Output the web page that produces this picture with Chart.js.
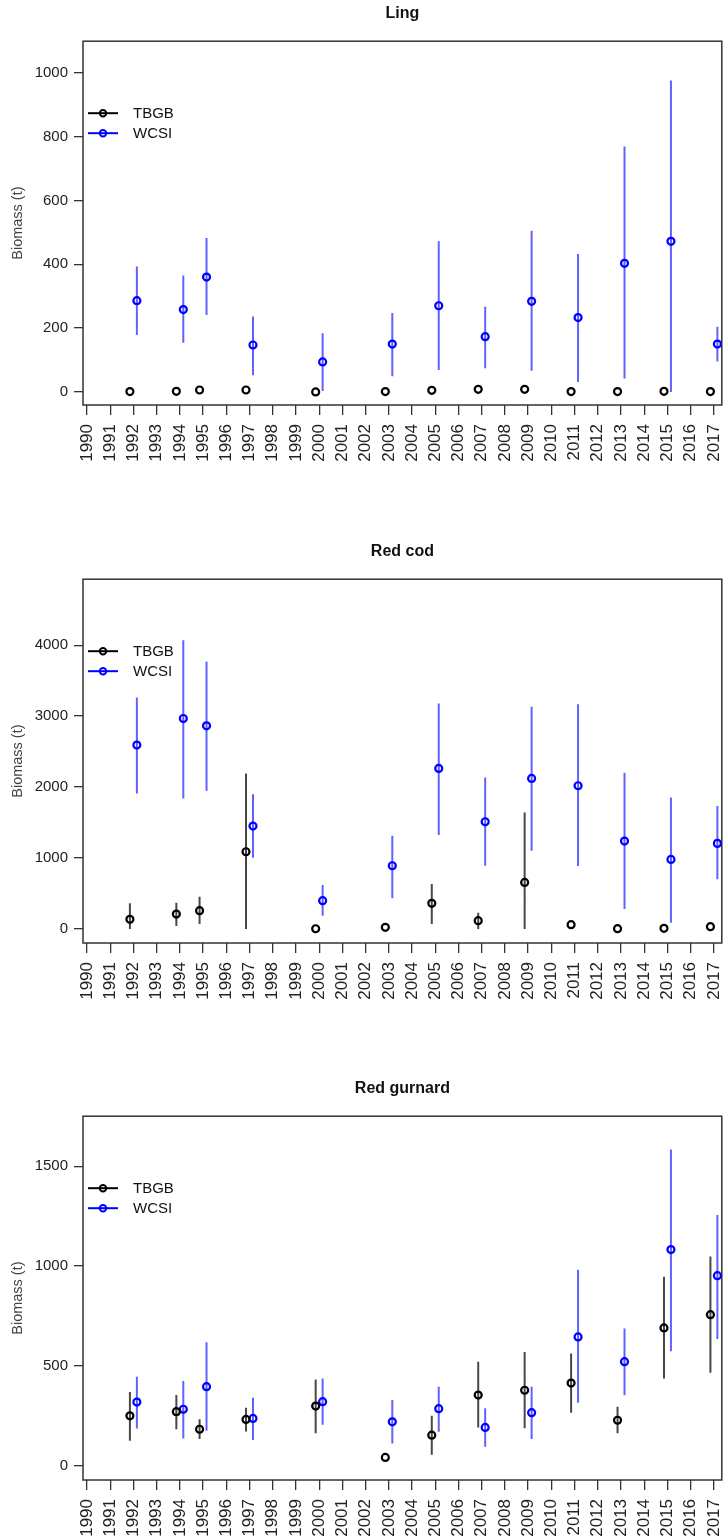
<!DOCTYPE html>
<html lang="en">
<head>
<meta charset="UTF-8">
<title>Survey biomass</title>
<script src="https://cdn.jsdelivr.net/npm/chart.js"></script>
<style>
  body { margin: 0; background: #fff; }
  #wrap { position: relative; width: 728px; height: 1539px; overflow: hidden; }
  canvas { position: absolute; left: 0; }
</style>
</head>
<body>
<div id="wrap">
  <canvas id="lingChart" width="728" height="467" style="top:0px"></canvas>
  <canvas id="redCodChart" width="728" height="467" style="top:538px"></canvas>
  <canvas id="gurnardChart" width="728" height="467" style="top:1075px"></canvas>
</div>

<script>
    // survey years and axis labels
    const surveyYears = [1992, 1994, 1995, 1997, 2000, 2003, 2005, 2007, 2009, 2011, 2013, 2015, 2017];
    const yearTicks = [1990, 1991, 1992, 1993, 1994, 1995, 1996, 1997, 1998, 1999, 2000, 2001, 2002, 2003,
        2004, 2005, 2006, 2007, 2008, 2009, 2010, 2011, 2012, 2013, 2014, 2015, 2016, 2017];

    // Ling
    const lingTicks = [0, 200, 400, 600, 800, 1000];
    const lingTbgb = [1, 2, 6, 6, 0, 1, 5, 8, 8, 1, 1, 2, 1];
    const lingTbgbLo = [null, null, null, null, null, null, null, null, null, null, null, null, null];
    const lingTbgbHi = [null, null, null, null, null, null, null, null, null, null, null, null, null];
    const lingWcsi = [286, 258, 360, 147, 94, 150, 270, 173, 284, 233, 403, 472, 150];
    const lingWcsiLo = [178, 154, 241, 52, 3, 49, 69, 74, 66, 31, 42, 0, 95];
    const lingWcsiHi = [393, 365, 482, 236, 184, 247, 472, 267, 505, 432, 769, 976, 204];

    // Red cod
    const codTicks = [0, 1000, 2000, 3000, 4000];
    const codTbgb = [136, 211, 258, 1089, 4, 24, 362, 117, 657, 61, 5, 10, 33];
    const codTbgbLo = [0, 42, 70, 0, null, null, 70, 0, 0, null, null, null, null];
    const codTbgbHi = [362, 370, 455, 2193, null, null, 634, 230, 1643, null, null, null, null];
    const codWcsi = [2592, 2967, 2863, 1451, 399, 892, 2263, 1512, 2122, 2019, 1239, 981, 1207];
    const codWcsiLo = [1911, 1841, 1948, 1004, 187, 432, 1324, 892, 1103, 887, 282, 89, 700];
    const codWcsiHi = [3263, 4070, 3765, 1901, 620, 1314, 3179, 2136, 3131, 3169, 2202, 1854, 1732];

    // Red gurnard
    const gurnardTicks = [0, 500, 1000, 1500];
    const gurnardTbgb = [251, 272, 184, 233, 300, 43, 154, 355, 379, 415, 229, 691, 757];
    const gurnardTbgbLo = [126, 184, 135, 173, 164, null, 56, 193, 189, 267, 164, 438, 467];
    const gurnardTbgbHi = [370, 355, 234, 292, 433, null, 251, 522, 570, 563, 296, 947, 1048];
    const gurnardWcsi = [320, 284, 397, 238, 322, 221, 287, 193, 267, 646, 522, 1083, 952];
    const gurnardWcsiLo = [188, 138, 176, 130, 206, 113, 171, 96, 135, 317, 354, 574, 636];
    const gurnardWcsiHi = [447, 425, 619, 342, 438, 330, 397, 289, 397, 982, 688, 1583, 1256];

    const FONT = '"Liberation Sans", Arial, Helvetica, sans-serif';
    Chart.defaults.font.family = FONT;

    const BLACK = '#000000';
    const BLUE = '#0000ff';
    const BLACK_BAR = 'rgba(0, 0, 0, 0.72)';
    const BLUE_BAR = 'rgba(0, 0, 255, 0.62)';

    // the two surveys are nudged either side of the year
    const TBGB_SHIFT = -0.15;
    const WCSI_SHIFT = 0.15;

    function toPoints(est, shift) {
        return est.map((v, i) => ({ x: surveyYears[i] + shift, y: v }));
    }

    // vertical interval lines, separated by null gaps
    function toBars(lo, hi, shift) {
        const out = [];
        lo.forEach((l, i) => {
            if (l === null) return;
            const x = surveyYears[i] + shift;
            out.push({ x: x, y: l }, { x: x, y: hi[i] }, { x: x, y: null });
        });
        return out;
    }

    // frame round the plotting region
    const plotBox = {
        id: 'plotBox',
        beforeDatasetsDraw(chart) {
            const { ctx, chartArea: a } = chart;
            ctx.save();
            ctx.strokeStyle = '#333';
            ctx.lineWidth = 1.5;
            ctx.strokeRect(a.left, a.top, a.width, a.height);
            ctx.restore();
        }
    };

    // R style legend sitting inside the top left of the plot
    const insideLegend = {
        id: 'insideLegend',
        afterDraw(chart) {
            const { ctx, chartArea } = chart;
            const items = chart.data.datasets.filter(d => d.inLegend);
            items.forEach((d, k) => {
                const y = chartArea.top + 72 + k * 20;
                const x0 = chartArea.left + 5;
                ctx.save();
                ctx.strokeStyle = d.borderColor;
                ctx.lineWidth = 2;
                ctx.beginPath();
                ctx.moveTo(x0, y);
                ctx.lineTo(x0 + 30, y);
                ctx.stroke();
                ctx.beginPath();
                ctx.arc(x0 + 15, y, 3.2, 0, Math.PI * 2);
                ctx.stroke();
                ctx.fillStyle = '#111';
                ctx.font = '15px ' + FONT;
                ctx.textBaseline = 'middle';
                ctx.fillText(d.label, x0 + 45, y + 1);
                ctx.restore();
            });
        }
    };

    function makePanel(canvasId, title, yMin, yMax, yTicks, tbgb, wcsi) {
        const ctx = document.getElementById(canvasId).getContext('2d');
        new Chart(ctx, {
            type: 'scatter',
            data: {
                datasets: [
                    {
                        label: 'TBGB interval',
                        data: toBars(tbgb.lo, tbgb.hi, TBGB_SHIFT),
                        showLine: true,
                        spanGaps: false,
                        borderColor: BLACK_BAR,
                        borderWidth: 2,
                        pointRadius: 0,
                        order: 2
                    },
                    {
                        label: 'WCSI interval',
                        data: toBars(wcsi.lo, wcsi.hi, WCSI_SHIFT),
                        showLine: true,
                        spanGaps: false,
                        borderColor: BLUE_BAR,
                        borderWidth: 2,
                        pointRadius: 0,
                        order: 2
                    },
                    {
                        label: 'TBGB',
                        inLegend: true,
                        data: toPoints(tbgb.est, TBGB_SHIFT),
                        borderColor: BLACK,
                        backgroundColor: 'rgba(0,0,0,0)',
                        pointRadius: 3.5,
                        pointBorderWidth: 2.2,
                        order: 1
                    },
                    {
                        label: 'WCSI',
                        inLegend: true,
                        data: toPoints(wcsi.est, WCSI_SHIFT),
                        borderColor: BLUE,
                        backgroundColor: 'rgba(0,0,0,0)',
                        pointRadius: 3.5,
                        pointBorderWidth: 2.2,
                        order: 1
                    }
                ]
            },
            options: {
                responsive: false,
                animation: false,
                layout: { padding: { top: 4, left: 0, right: 1, bottom: 0 } },
                plugins: {
                    legend: { display: false },
                    tooltip: { enabled: false },
                    title: {
                        display: true,
                        text: title,
                        fullSize: false,
                        color: '#111',
                        font: { size: 16, weight: 'bold' },
                        padding: { top: 0, bottom: 18 }
                    }
                },
                scales: {
                    x: {
                        type: 'linear',
                        min: 1989.83,
                        max: 2017.34,
                        afterBuildTicks: s => { s.ticks = yearTicks.map(v => ({ value: v })); },
                        afterFit: s => { s.height = 62; s.paddingLeft = 0; s.paddingRight = 0; },
                        ticks: {
                            autoSkip: false,
                            minRotation: 90,
                            maxRotation: 90,
                            padding: 9,
                            color: '#222',
                            font: { size: 17 },
                            callback: v => String(v)
                        },
                        grid: { drawOnChartArea: false, drawTicks: true, tickLength: 10, color: '#333', lineWidth: 1.3 },
                        border: { display: false }
                    },
                    y: {
                        min: yMin,
                        max: yMax,
                        afterBuildTicks: s => { s.ticks = yTicks.map(v => ({ value: v })); },
                        afterFit: s => { s.width = 83; },
                        ticks: {
                            padding: 6,
                            color: '#222',
                            font: { size: 15 },
                            callback: v => String(v)
                        },
                        grid: { drawOnChartArea: false, drawTicks: true, tickLength: 9, color: '#333', lineWidth: 1.3 },
                        border: { display: false },
                        title: {
                            display: true,
                            text: 'Biomass (t)',
                            color: '#444',
                            font: { size: 14.5 },
                            padding: { top: 9, bottom: 0 }
                        }
                    }
                }
            },
            plugins: [plotBox, insideLegend]
        });
    }

    makePanel('lingChart', 'Ling', -41, 1099, lingTicks,
        { est: lingTbgb, lo: lingTbgbLo, hi: lingTbgbHi },
        { est: lingWcsi, lo: lingWcsiLo, hi: lingWcsiHi });

    makePanel('redCodChart', 'Red cod', -197, 4930, codTicks,
        { est: codTbgb, lo: codTbgbLo, hi: codTbgbHi },
        { est: codWcsi, lo: codWcsiLo, hi: codWcsiHi });

    makePanel('gurnardChart', 'Red gurnard', -70, 1750, gurnardTicks,
        { est: gurnardTbgb, lo: gurnardTbgbLo, hi: gurnardTbgbHi },
        { est: gurnardWcsi, lo: gurnardWcsiLo, hi: gurnardWcsiHi });
</script>
</body>
</html>
